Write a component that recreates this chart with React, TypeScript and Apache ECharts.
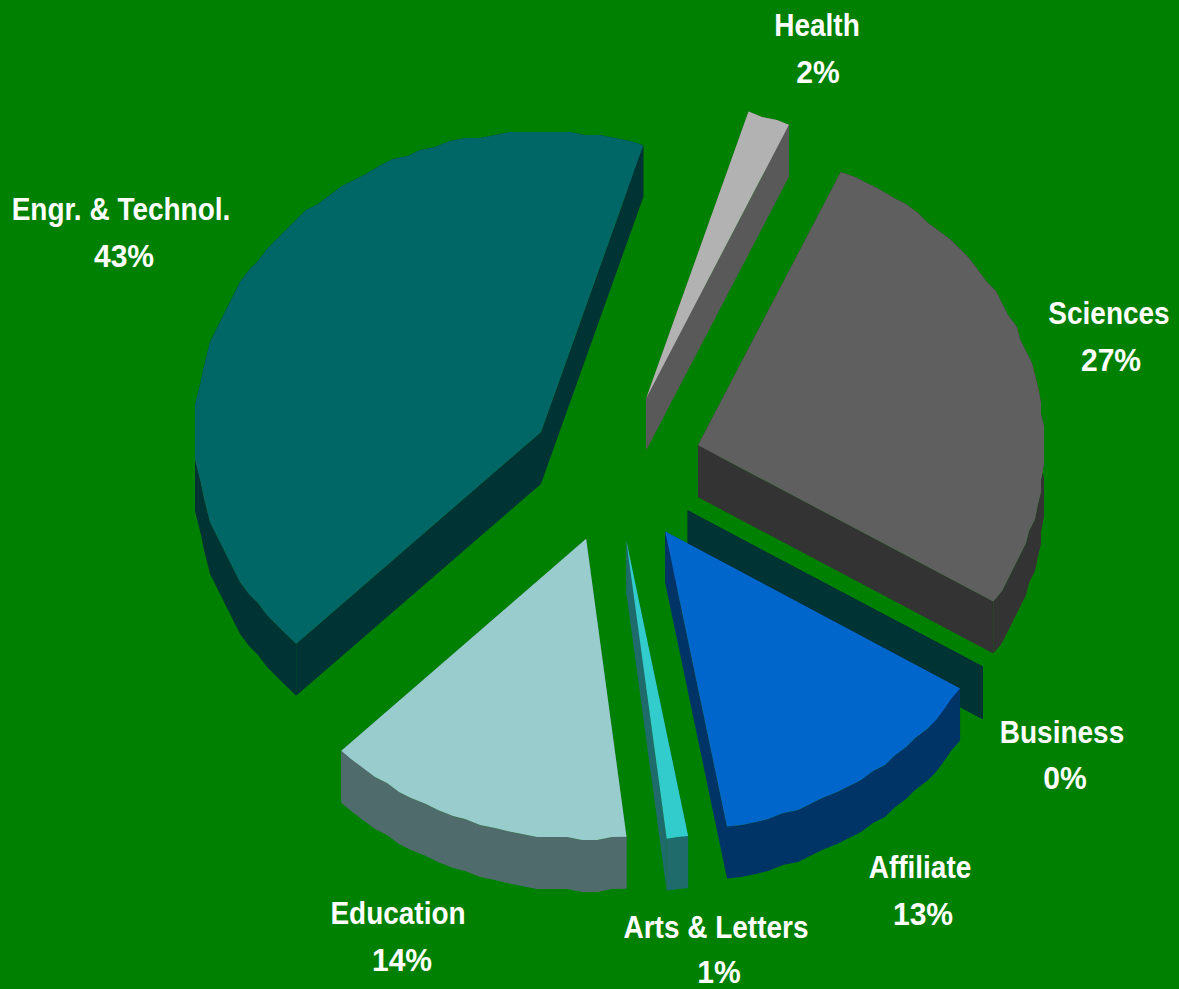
import React, { useEffect, useRef } from "react";
import * as echarts from "echarts";

const CATEGORIES = ["Health", "Sciences", "Business", "Affiliate", "Arts & Letters", "Education", "Engr. & Technol."];
const VALUES = [2.0, 27.1, 0.05, 13.45, 1.0, 14.45, 42.5];

const TOP_COLORS = ["#B2B2B2", "#5F5F5F", "#003333", "#0066CC", "#33CCCC", "#99CCCC", "#006666"];
const SIDE_COLORS = ["#595959", "#333333", "#003333", "#003366", "#1F6B6B", "#506B6B", "#003333"];
const EXPLODE_X = [0.295, 0.266, 0.263, 0.283, 0.32, 0.21, 0.233];
const EXPLODE_Y = [0.249, 0.258, 0.27, 0.256, 0.245, 0.25, 0.233];
const LABEL_CENTERS = [
  [817, 25, 818, 72],
  [1109, 313, 1111, 360],
  [1062, 732, 1065, 778],
  [920, 867, 923, 914],
  [716, 927, 719, 972],
  [398, 913, 402, 960],
  [121, 209, 124, 256],
];

const CX = 610;
const CY = 468;
const RX = 346;
const RY = 300;
const DEPTH = 52;
const START_DEG = 17.2;
const SNAP = 3;
const STEP_DEG = 2.5;
const NAME_SCALE_X = 0.875;
const PERCENT_SCALE_X = 0.94;
const FONT = "'Liberation Sans', Arial, sans-serif";

const TOTAL = VALUES.reduce((a, b) => a + b, 0);
const ANGLE_STARTS: number[] = [];
VALUES.reduce((acc, v, i) => {
  ANGLE_STARTS[i] = acc;
  return acc + (v / TOTAL) * 360;
}, START_DEG);

const dir = (deg: number) => {
  const t = (deg * Math.PI) / 180;
  return [RX * Math.sin(t), -RY * Math.cos(t)];
};

function renderSlice(params: any, api: any) {
  const i = params.dataIndex;
  const value = api.value(0);
  const a0 = ANGLE_STARTS[i];
  const a1 = a0 + (value / TOTAL) * 360;
  const mid = dir((a0 + a1) / 2);
  const ax = CX + EXPLODE_X[i] * mid[0];
  const ay = CY + EXPLODE_Y[i] * mid[1];

  const rim: number[][] = [];
  const steps = Math.max(1, Math.ceil((a1 - a0) / STEP_DEG));
  for (let s = 0; s <= steps; s++) {
    const d = dir(a0 + ((a1 - a0) * s) / steps);
    let x = ax + d[0];
    let y = ay + d[1];
    if (s > 0 && s < steps) {
      x = Math.round(x / SNAP) * SNAP;
      y = Math.round(y / SNAP) * SNAP;
    }
    rim.push([x, y]);
  }
  const top = [[ax, ay], ...rim];
  const down = (p: number[]) => [p[0], p[1] + DEPTH];
  const side = { fill: SIDE_COLORS[i] };
  const first = rim[0];
  const lastP = rim[rim.length - 1];

  const text = (t: string, x: number, y: number, scaleX: number) => ({
    type: "text",
    x,
    y,
    scaleX,
    style: {
      text: t,
      x: 0,
      y: 0,
      fill: "#FFFFFF",
      fontFamily: FONT,
      fontWeight: "bold",
      fontSize: 32,
      align: "center",
      verticalAlign: "middle",
    },
  });
  const l = LABEL_CENTERS[i];

  return {
    type: "group",
    children: [
      { type: "polygon", shape: { points: [[ax, ay], first, down(first), [ax, ay + DEPTH]] }, style: side },
      { type: "polygon", shape: { points: [[ax, ay], lastP, down(lastP), [ax, ay + DEPTH]] }, style: side },
      { type: "polygon", shape: { points: [...rim, ...rim.map(down).reverse()] }, style: side },
      { type: "polygon", shape: { points: top }, style: { fill: TOP_COLORS[i] } },
      text(CATEGORIES[i], l[0], l[1], NAME_SCALE_X),
      text(`${Math.round(value)}%`, l[2], l[3], PERCENT_SCALE_X),
    ],
  };
}

export default function App() {
  const ref = useRef<HTMLDivElement>(null);
  useEffect(() => {
    const chart = echarts.init(ref.current!, undefined, { renderer: "svg" });
    chart.setOption({
      animation: false,
      backgroundColor: "#008000",
      series: [
        {
          type: "custom",
          coordinateSystem: "none",
          silent: true,
          clip: false,
          renderItem: renderSlice,
          data: VALUES.map((v, i) => ({ name: CATEGORIES[i], value: [v] })),
        },
      ],
    });
    return () => chart.dispose();
  }, []);
  return <div ref={ref} style={{ position: "absolute", left: 0, top: 0, width: 1179, height: 989 }} />;
}
